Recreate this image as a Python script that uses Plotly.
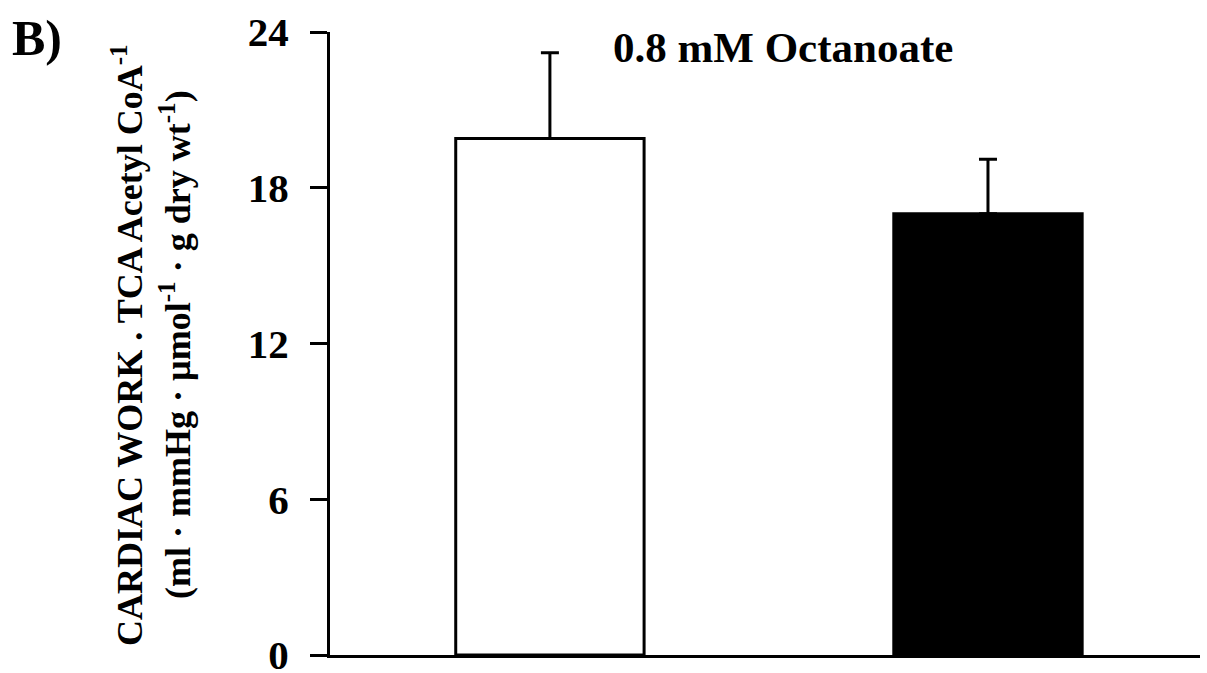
import plotly.graph_objects as go

# Group means and upper SEM limits (cardiac work / TCA acetyl CoA)
groups = ["Control", "Treated"]
means = [19.9, 17.0]
upper_err = [3.3, 2.1]
bar_fill = ["white", "black"]
y_ticks = [0, 6, 12, 18, 24]

FONT = "Liberation Serif"

fig = go.Figure()
fig.add_trace(go.Bar(
    x=[0, 1],
    y=means,
    width=0.43,
    marker=dict(color=bar_fill, line=dict(color="black", width=3)),
    error_y=dict(type="data", symmetric=False, array=upper_err,
                 arrayminus=[0, 0], color="black", thickness=3, width=9),
    hovertext=groups,
    showlegend=False,
))

fig.update_layout(
    width=1207, height=673,
    margin=dict(l=330, r=7, t=32, b=18),
    plot_bgcolor="white", paper_bgcolor="white",
    font=dict(family=FONT, color="black"),
    xaxis=dict(range=[-0.502, 1.484], showline=True, linewidth=3,
               linecolor="black", showticklabels=False, ticks="",
               showgrid=False, zeroline=False, automargin=False),
    yaxis=dict(range=[0, 24], tickvals=y_ticks, showline=True, linewidth=3,
               linecolor="black", ticks="outside", ticklen=17, tickwidth=3,
               tickcolor="black", showgrid=False, zeroline=False,
               automargin=False,
               ticklabelstandoff=13, ticklabeloverflow="allow",
               tickfont=dict(family=FONT, size=41, color="black", weight="bold")),
)

# Panel letter
fig.add_annotation(text="<b>B)</b>", xref="paper", yref="paper",
                   x=-330 / 870 + 37 / 870, y=1 + (32 - 38) / 623,
                   xanchor="center", yanchor="middle", showarrow=False,
                   font=dict(family=FONT, size=50, color="black"))

# Panel title
fig.add_annotation(text="<b>0.8 mM Octanoate</b>", xref="paper", yref="paper",
                   x=(783 - 330) / 870, y=1 + (32 - 47) / 623,
                   xanchor="center", yanchor="middle", showarrow=False,
                   font=dict(family=FONT, size=43, color="black"))

# Two-line rotated y-axis title
fig.add_annotation(text="<b>CARDIAC WORK . TCA Acetyl CoA<sup>-1</sup></b>",
                   xref="paper", yref="paper",
                   x=(128 - 330) / 870, y=(655 - 345) / 623,
                   xanchor="center", yanchor="middle", showarrow=False,
                   textangle=-90,
                   font=dict(family=FONT, size=36, color="black"))
fig.add_annotation(text="<b>(ml · mmHg · µmol<sup>-1</sup> · g dry wt<sup>-1</sup>)</b>",
                   xref="paper", yref="paper",
                   x=(176 - 330) / 870, y=(655 - 345) / 623,
                   xanchor="center", yanchor="middle", showarrow=False,
                   textangle=-90,
                   font=dict(family=FONT, size=36, color="black"))

fig.write_html("out.html")
